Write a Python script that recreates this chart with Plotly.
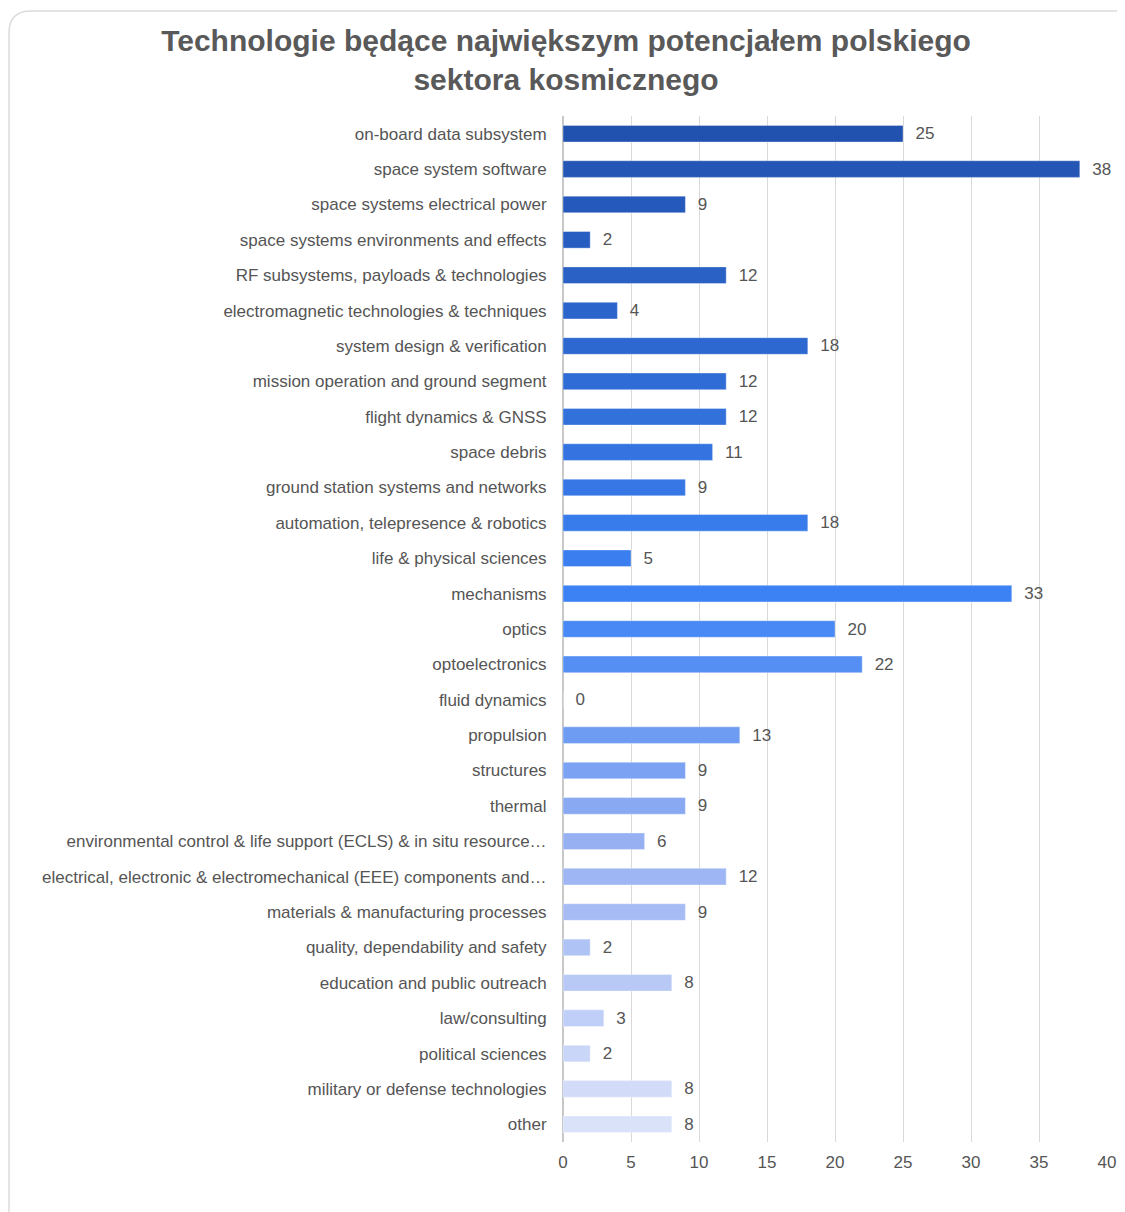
import plotly.graph_objects as go

categories = [
    "on-board data subsystem",
    "space system software",
    "space systems electrical power",
    "space systems environments and effects",
    "RF subsystems, payloads & technologies",
    "electromagnetic technologies & techniques",
    "system design & verification",
    "mission operation and ground segment",
    "flight dynamics & GNSS",
    "space debris",
    "ground station systems and networks",
    "automation, telepresence & robotics",
    "life & physical sciences",
    "mechanisms",
    "optics",
    "optoelectronics",
    "fluid dynamics",
    "propulsion",
    "structures",
    "thermal",
    "environmental control & life support (ECLS) & in situ resource…",
    "electrical, electronic & electromechanical (EEE) components and…",
    "materials & manufacturing processes",
    "quality, dependability and safety",
    "education and public outreach",
    "law/consulting",
    "political sciences",
    "military or defense technologies",
    "other",
]
counts = [25, 38, 9, 2, 12, 4, 18, 12, 12, 11, 9, 18, 5, 33, 20, 22, 0,
          13, 9, 9, 6, 12, 9, 2, 8, 3, 2, 8, 8]
x_ticks = [0, 5, 10, 15, 20, 25, 30, 35, 40]

# colour ramp from dark blue (top) to pale lavender (bottom)
stops = [(0, (0x21, 0x52, 0xb0)), (13, (0x3c, 0x82, 0xf5)),
         (20, (0x96, 0xb0, 0xf2)), (28, (0xda, 0xe2, 0xfa))]


def ramp(i):
    for (i0, c0), (i1, c1) in zip(stops, stops[1:]):
        if i0 <= i <= i1:
            t = (i - i0) / (i1 - i0)
            r, g, b = (round(a + (b_ - a) * t) for a, b_ in zip(c0, c1))
            return f"rgb({r},{g},{b})"
    return "rgb(218,226,250)"


colors = [ramp(i) for i in range(len(categories))]

# page has an 8px body margin, so figure px = screen px - 8
OFF = 8
W, H = 1125, 1212
L, T = 563 - OFF, 116 - OFF
R = W - (1107 - OFF)
B = H - (1142 - OFF)
pw, ph = W - L - R, H - T - B


def px(x, y):
    # screen coordinates -> paper coordinates
    return (x - OFF - L) / pw, (H - B - (y - OFF)) / ph


# rounded card frame around the chart
x0, y0, x1, y1, rad = 9, 11, 1150, 1260, 22
pts = {
    "a": px(x0 + rad, y0), "b": px(x1 - rad, y0), "c": px(x1, y0),
    "d": px(x1, y0 + rad), "e": px(x1, y1), "f": px(x0, y1),
    "g": px(x0, y0 + rad), "h": px(x0, y0),
}
frame = (f"M {pts['a'][0]},{pts['a'][1]} L {pts['b'][0]},{pts['b'][1]} "
         f"Q {pts['c'][0]},{pts['c'][1]} {pts['d'][0]},{pts['d'][1]} "
         f"L {pts['e'][0]},{pts['e'][1]} L {pts['f'][0]},{pts['f'][1]} "
         f"L {pts['g'][0]},{pts['g'][1]} "
         f"Q {pts['h'][0]},{pts['h'][1]} {pts['a'][0]},{pts['a'][1]} Z")

fig = go.Figure()
fig.add_trace(go.Bar(
    x=counts,
    y=categories,
    orientation="h",
    marker=dict(color=colors, line=dict(color="rgba(255,255,255,0.35)", width=1)),
    text=[f"  {v}" for v in counts],
    textposition="outside",
    constraintext="none",
    textfont=dict(size=17, color="#555555"),
    cliponaxis=False,
    hoverinfo="x+y",
))

fig.update_layout(
    width=W,
    height=H,
    margin=dict(l=L, r=R, t=T, b=B),
    title=dict(
        text="Technologie będące największym potencjałem polskiego<br>sektora kosmicznego",
        x=(566 - OFF) / W, xanchor="center", y=1 - (51 - OFF) / H, yanchor="middle",
        font=dict(family="Liberation Sans, Arial, sans-serif", size=30,
                  color="#595959", weight="bold"),
    ),
    font=dict(family="Liberation Sans, Arial, sans-serif", size=17, color="#555555"),
    bargap=0.53,
    showlegend=False,
    plot_bgcolor="rgba(0,0,0,0)",
    paper_bgcolor="white",
    xaxis=dict(
        range=[0, 40], tickvals=x_ticks, showgrid=True, gridcolor="#d9d9d9",
        gridwidth=1, zeroline=True, zerolinecolor="#c8c8c8", zerolinewidth=1.5,
        ticks="outside", ticklen=5, tickcolor="rgba(0,0,0,0)",
        tickfont=dict(size=17, color="#555555"), fixedrange=True,
    ),
    yaxis=dict(
        autorange="reversed", showgrid=False, ticks="outside", ticklen=12,
        tickcolor="rgba(0,0,0,0)", tickfont=dict(size=17, color="#555555"),
        fixedrange=True,
    ),
    shapes=[dict(type="path", path=frame, xref="paper", yref="paper",
                 line=dict(color="#dcdcdc", width=1.5), layer="below")],
)

fig.write_html("out.html")
